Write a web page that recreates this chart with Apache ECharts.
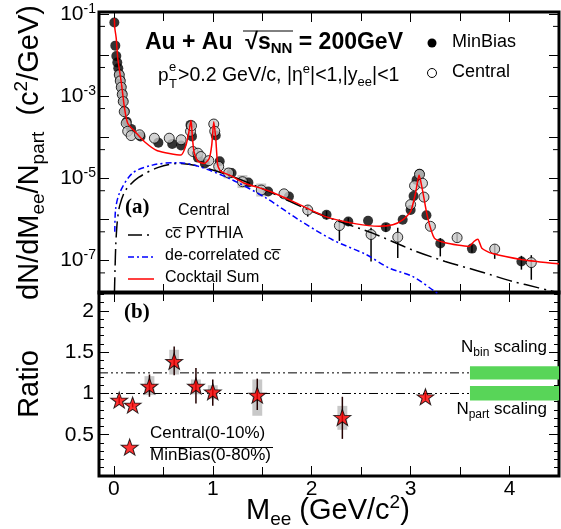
<!DOCTYPE html>
<html><head><meta charset="utf-8">
<script src="https://cdn.jsdelivr.net/npm/echarts@6/dist/echarts.min.js"></script>
<style>html,body{margin:0;padding:0;background:#fff;}#c{width:561px;height:529px;}</style>
</head><body><div id="c"></div>
<script>
// ---------- data ----------
const minBiasX = [0.005,0.015,0.025,0.035,0.045,0.055,0.065,0.075,0.085,0.095,0.11,0.13,0.175,0.27,0.45,0.59,0.68,0.775,0.79,0.85,0.92,1.03,1.07,1.19,1.36,1.56,1.77,2.15,2.37,2.57,2.75,2.92,3.00,3.03,3.06,3.09,3.16,3.30,3.62,4.12];
const minBiasY = [6.2e-2,1.7e-2,9.5e-3,6.6e-3,4.8e-3,3.4e-3,2.5e-3,1.7e-3,1.15e-3,7.6e-4,4.3e-4,2.4e-4,1.6e-4,1.05e-4,7.4e-5,6.9e-5,6.3e-5,2.0e-4,1.05e-4,3.2e-5,2.3e-5,1.1e-4,2.6e-5,1.35e-5,7.9e-6,4.8e-6,3.6e-6,1.3e-6,8.9e-7,9.3e-7,6.5e-7,9.8e-7,1.7e-6,3.7e-6,9.1e-6,1.3e-5,1.26e-6,2.6e-7,1.95e-7,9.5e-8];
const centralX = [0.055,0.065,0.075,0.085,0.095,0.105,0.125,0.14,0.175,0.26,0.41,0.56,0.68,0.775,0.785,0.80,0.85,0.88,0.96,1.01,1.02,1.06,1.16,1.30,1.49,1.72,1.96,2.28,2.60,2.87,3.00,3.04,3.09,3.12,3.135,3.20,3.47,3.85,4.22];
const centralY = [3.3e-3,2.35e-3,1.65e-3,1.1e-3,7.4e-4,4.2e-4,2.2e-4,1.4e-4,1.1e-4,1.15e-4,9.5e-5,9.5e-5,8.7e-5,1.4e-4,1.9e-4,4.5e-5,4.1e-5,3.4e-5,2.7e-5,2.1e-4,1.4e-4,1.95e-5,1.35e-5,8.3e-6,5.2e-6,4.2e-6,1.7e-6,7.1e-7,4.3e-7,3.7e-7,2.3e-6,6.6e-6,1.25e-5,7.6e-6,3.5e-6,6.8e-7,3.6e-7,1.9e-7,8.9e-8];
const minBiasErrX  = [2.15,2.37,2.75,3.30,3.62,4.12];
const minBiasErrLo = [1.0e-6,7.0e-7,5.0e-7,1.26e-7,1.55e-7,6.0e-8];
const minBiasErrHi = [1.6e-6,1.1e-6,8.0e-7,3.5e-7,2.4e-7,1.3e-7];
const centralErrX  = [1.96,2.28,2.60,2.87,3.47,3.85,4.22];
const centralErrLo = [1.17e-6,3.0e-7,9.5e-8,1.15e-7,2.8e-7,1.1e-7,3.4e-8];
const centralErrHi = [2.2e-6,1.0e-6,6.3e-7,6.3e-7,4.5e-7,2.5e-7,1.35e-7];
const centralSysX  = [1.16,1.30,1.49];
const centralSysLo = [1.0e-5,5.8e-6,3.6e-6];
const centralSysHi = [1.8e-5,1.2e-5,7.5e-6];
const sysHalfWidth = 0.05;

const cocktailX = [0.005,0.01,0.024,0.04,0.075,0.108,0.14,0.21,0.31,0.44,0.68,0.73,0.76,0.78,0.795,0.81,0.85,0.915,0.965,0.99,1.01,1.03,1.05,1.08,1.20,1.32,1.54,1.81,2.14,2.45,2.68,2.82,2.92,3.00,3.05,3.085,3.12,3.17,3.24,3.35,3.59,3.64,3.68,3.72,3.82,4.13,4.5];
const cocktailY = [0.079,0.045,0.026,0.0083,0.0022,5.1e-4,2.2e-4,1.4e-4,7.8e-5,4.7e-5,3.7e-5,6.5e-5,1.4e-4,2.6e-4,9.5e-5,4.5e-5,2.6e-5,2.3e-5,3.1e-5,6.5e-5,2.4e-4,9.5e-5,2.1e-5,1.5e-5,1.1e-5,7.6e-6,5.2e-6,2.75e-6,1.17e-6,7.8e-7,6.8e-7,7.4e-7,9.8e-7,1.55e-6,4.4e-6,1.2e-5,5.2e-6,1.17e-6,3.5e-7,2.7e-7,2.2e-7,2.9e-7,3.3e-7,2.0e-7,1.5e-7,1.05e-7,8.3e-8];
const pythiaX = [0.006,0.012,0.02,0.035,0.06,0.12,0.25,0.45,0.65,0.87,1.2,1.55,1.97,2.28,2.61,3.02,3.35,3.69,4.03,4.16,4.43,4.5];
const pythiaY = [1.6e-8,6e-8,2.5e-7,8.9e-7,2.2e-6,5.2e-6,1.05e-5,1.85e-5,2.3e-5,1.95e-5,1.1e-5,5e-6,1.7e-6,8.9e-7,4.7e-7,1.8e-7,9.5e-8,5.5e-8,3.1e-8,2.6e-8,1.8e-8,1.66e-8];
const decorrX = [0.01,0.017,0.058,0.19,0.39,0.6,0.66,0.86,1.2,1.54,1.87,2.21,2.55,2.78,3.02,3.24,3.27];
const decorrY = [5e-7,1.7e-6,4.4e-6,1.35e-5,2.1e-5,2.4e-5,2.4e-5,1.95e-5,9.1e-6,3.3e-6,9.8e-7,3.2e-7,1.4e-7,6.6e-8,4.1e-8,1.8e-8,1.6e-8];

const ratioX  = [0.054,0.19,0.36,0.61,0.83,1.0,1.45,2.31,3.15];
const ratioY  = [0.92,0.86,1.09,1.39,1.09,1.02,0.98,0.71,0.96];
const ratioLo = [0.88,0.83,0.96,1.22,0.88,0.85,0.80,0.45,0.92];
const ratioHi = [0.96,0.89,1.23,1.57,1.31,1.17,1.18,0.96,1.00];
const ratioSysX  = [0.36,0.61,0.83,1.0,1.45,2.31];
const ratioSysLo = [0.98,1.23,0.99,0.93,0.73,0.56];
const ratioSysHi = [1.21,1.53,1.17,1.10,1.17,0.85];
const scalingLevels = [1.25,1.0];         // N_bin, N_part
const scalingBandLo = [1.17,0.915];
const scalingBandHi = [1.33,1.09];
const scalingBandX = [3.6,4.5];
const legendStar = [[0.16,0.35]];

const xMin = -0.15, xMax = 4.5;
const yTopMin = 1.62e-8, yTopMax = 0.112;
const yBotMin = 0, yBotMax = 2.23;
const halfDecadeTicks = [5e-8,5e-7,5e-6,5e-5,5e-4,5e-3,5e-2];

// ---------- chart ----------
const FONT = '"Liberation Sans", Arial, sans-serif';
const chart = echarts.init(document.getElementById('c'), null, {renderer:'canvas'});
const zip2 = (a,b) => a.map((v,i)=>[v,b[i]]);
const zip3 = (a,b,c) => a.map((v,i)=>[v,b[i],c[i]]);

function errRender(color, w){
  return function(params, api){
    const a = api.coord([api.value(0), api.value(1)]);
    const b = api.coord([api.value(0), api.value(2)]);
    return {type:'line', shape:{x1:a[0],y1:a[1],x2:b[0],y2:b[1]}, style:{stroke:color, lineWidth:w}};
  };
}
function boxRender(fill, hw){
  return function(params, api){
    const x = api.value(0);
    const a = api.coord([x-hw, api.value(2)]);
    const b = api.coord([x+hw, api.value(1)]);
    return {type:'rect', shape:{x:a[0],y:a[1],width:b[0]-a[0],height:b[1]-a[1]}, style:{fill:fill}};
  };
}
function sideTickRender(len){
  return function(params, api){
    const l = api.coord([xMin, api.value(1)]);
    const r = api.coord([xMax, api.value(1)]);
    return {type:'group', children:[
      {type:'line', shape:{x1:l[0],y1:l[1],x2:l[0]+len,y2:l[1]}, style:{stroke:'#000',lineWidth:1}},
      {type:'line', shape:{x1:r[0],y1:r[1],x2:r[0]-len,y2:r[1]}, style:{stroke:'#000',lineWidth:1}}
    ]};
  };
}
function bandRender(params, api){
  const a = api.coord([scalingBandX[0], api.value(2)]);
  const b = api.coord([scalingBandX[1], api.value(1)]);
  return {type:'rect', shape:{x:a[0],y:a[1],width:b[0]-a[0],height:b[1]-a[1]}, style:{fill:'#58d558'}};
}

const tickStyle = {show:true, inside:true, length:10, lineStyle:{color:'#000', width:1}};
const minorStyle = {show:true, splitNumber:2, length:9, lineStyle:{color:'#000', width:1}};
const noLine = {show:false, onZero:false};
function xAx(grid, pos, labels){
  return {type:'value', gridIndex:grid, position:pos, min:xMin, max:xMax, splitNumber:5,
    axisLine:noLine, axisTick:tickStyle, minorTick:minorStyle, splitLine:{show:false},
    axisLabel:{show:labels, showMinLabel:false, showMaxLabel:false, fontSize:21, fontFamily:FONT, color:'#000', margin:3,
      formatter:(v)=> Math.abs(v-Math.round(v))<1e-9 ? String(Math.round(v)) : ''}};
}
const starPath = 'path://M0,-10L2.35,-3.24L9.51,-3.09L3.8,1.24L5.88,8.09L0,4L-5.88,8.09L-3.8,1.24L-9.51,-3.09L-2.35,-3.24Z';
const titleRich = {
  a:{fontSize:29, lineHeight:36, fontFamily:FONT, color:'#000', fill:'#000'},
  sub:{fontSize:19, lineHeight:20, verticalAlign:'bottom', fontFamily:FONT, color:'#000', fill:'#000'},
  sup:{fontSize:19, lineHeight:20, verticalAlign:'top', fontFamily:FONT, color:'#000', fill:'#000'}};

const option = {
  animation:false,
  backgroundColor:'#fff',
  grid:[
    {left:99, top:12, width:460, height:281, show:true, borderColor:'#000', borderWidth:3, containLabel:false, outerBoundsMode:'none'},
    {left:99, top:292, width:460, height:184, show:true, borderColor:'#000', borderWidth:3, containLabel:false, outerBoundsMode:'none'}
  ],
  xAxis:[
    xAx(0,'bottom',false),
    xAx(0,'top',false),
    xAx(1,'bottom',true),
    xAx(1,'top',false)
  ],
  yAxis:[
    {type:'log', gridIndex:0, position:'left', min:yTopMin, max:yTopMax, logBase:10,
      axisLine:noLine, axisTick:tickStyle, splitLine:{show:false}, minorTick:{show:false},
      axisLabel:{show:true, showMinLabel:false, showMaxLabel:false, margin:3, color:'#000', fontFamily:FONT,
        formatter:function(v){ const l = Math.log10(v); const e = Math.round(l);
          if (Math.abs(l-e) > 1e-6 || e % 2 === 0) return ''; return '{b|10}{s|' + e + '}'; },
        rich:{ b:{fontSize:21, lineHeight:24, fontFamily:FONT, color:'#000'},
               s:{fontSize:14, lineHeight:14, verticalAlign:'top', fontFamily:FONT, color:'#000'} }},
      name:'{a|dN/dM}{sub|ee}{a|/N}{sub|part}{a|  (c}{sup|2}{a|/GeV)}', nameLocation:'middle', nameGap:51, nameRotate:90,
      nameTextStyle:{color:'#000', fontFamily:FONT, rich:titleRich}
    },
    {type:'log', gridIndex:0, position:'right', min:yTopMin, max:yTopMax, logBase:10,
      axisLine:noLine, axisTick:tickStyle, splitLine:{show:false}, axisLabel:{show:false}},
    {type:'value', gridIndex:1, position:'left', min:yBotMin, max:yBotMax, interval:0.5,
      axisLine:noLine, axisTick:tickStyle, splitLine:{show:false},
      minorTick:{show:true, splitNumber:5, length:5, lineStyle:{color:'#000',width:1}},
      axisLabel:{show:true, showMinLabel:false, showMaxLabel:false, fontSize:21, margin:5, fontFamily:FONT, color:'#000'},
      name:'Ratio', nameLocation:'middle', nameGap:51, nameRotate:90,
      nameTextStyle:{fontSize:29, lineHeight:36, fontFamily:FONT, color:'#000'}},
    {type:'value', gridIndex:1, position:'right', min:yBotMin, max:yBotMax, interval:0.5,
      axisLine:noLine, axisTick:tickStyle, splitLine:{show:false},
      minorTick:{show:true, splitNumber:5, length:5, lineStyle:{color:'#000',width:1}},
      axisLabel:{show:false}}
  ],
  series:[
    // --- top panel ---
    {type:'custom', xAxisIndex:0, yAxisIndex:0, z:1, renderItem:sideTickRender(6),
      data: halfDecadeTicks.map(v=>[xMin, v])},
    {type:'custom', xAxisIndex:0, yAxisIndex:0, z:2, renderItem:boxRender('#c8c8c8', sysHalfWidth),
      data: zip3(centralSysX, centralSysLo, centralSysHi)},
    {type:'custom', xAxisIndex:0, yAxisIndex:0, z:3, renderItem:errRender('#000',1.5),
      data: zip3(minBiasErrX, minBiasErrLo, minBiasErrHi)},
    {type:'custom', xAxisIndex:0, yAxisIndex:0, z:3, renderItem:errRender('#000',1.5),
      data: zip3(centralErrX, centralErrLo, centralErrHi)},
    {type:'scatter', name:'MinBias', xAxisIndex:0, yAxisIndex:0, z:4, symbol:'circle', symbolSize:10,
      itemStyle:{color:'#000'}, data: zip2(minBiasX, minBiasY)},
    {type:'scatter', name:'Central', xAxisIndex:0, yAxisIndex:0, z:5, symbol:'circle', symbolSize:10,
      itemStyle:{color:'#c8c8c8', borderColor:'#000', borderWidth:1}, data: zip2(centralX, centralY)},
    {type:'line', name:'cc PYTHIA', xAxisIndex:0, yAxisIndex:0, z:6, showSymbol:false, smooth:0.3,
      lineStyle:{color:'#000', width:1.5, type:[16,5,2,5]}, data: zip2(pythiaX, pythiaY)},
    {type:'line', name:'de-correlated', xAxisIndex:0, yAxisIndex:0, z:6, showSymbol:false, smooth:0.3,
      lineStyle:{color:'#0000ff', width:1.5, type:[6,3,2,3]}, data: zip2(decorrX, decorrY)},
    {type:'line', name:'Cocktail Sum', xAxisIndex:0, yAxisIndex:0, z:7, showSymbol:false, smooth:0.2,
      lineStyle:{color:'#ff0000', width:1.5}, data: zip2(cocktailX, cocktailY)},
    // --- bottom panel ---
    {type:'custom', xAxisIndex:2, yAxisIndex:2, z:1, renderItem:bandRender,
      data: zip3(scalingLevels, scalingBandLo, scalingBandHi)},
    {type:'line', xAxisIndex:2, yAxisIndex:2, z:2, showSymbol:false,
      lineStyle:{color:'#000', width:1, type:[9,3,2,3,2,3,2,3]}, data: [[xMin, scalingLevels[0]],[scalingBandX[0], scalingLevels[0]]]},
    {type:'line', xAxisIndex:2, yAxisIndex:2, z:2, showSymbol:false,
      lineStyle:{color:'#000', width:1, type:[9,3,2,3,2,3,2,3]}, data: [[xMin, scalingLevels[1]],[scalingBandX[0], scalingLevels[1]]]},
    {type:'custom', xAxisIndex:2, yAxisIndex:2, z:3, renderItem:boxRender('#c8c8c8', sysHalfWidth),
      data: zip3(ratioSysX, ratioSysLo, ratioSysHi)},
    {type:'custom', xAxisIndex:2, yAxisIndex:2, z:4, renderItem:errRender('#200',1.5),
      data: zip3(ratioX, ratioLo, ratioHi)},
    {type:'scatter', xAxisIndex:2, yAxisIndex:2, z:5, symbol:starPath, symbolSize:[17,16],
      itemStyle:{color:'#ff0000', borderColor:'#000', borderWidth:1}, data: zip2(ratioX, ratioY)},
    {type:'scatter', xAxisIndex:2, yAxisIndex:2, z:5, symbol:starPath, symbolSize:[17,16],
      itemStyle:{color:'#ff0000', borderColor:'#000', borderWidth:1}, data: legendStar}
  ],
  graphic:[
    // x-axis title
    {type:'text', left:246, top:493, z:10, style:{
      text:'{a|M}{sub|ee}{a| (GeV/c}{sup|2}{a|)}', fill:'#000', rich:titleRich}},
    // top title
    {type:'text', left:145, top:31, z:10, style:{
      text:'{b|Au + Au  \u221A}{bs|s}{bsub|NN}{b| = 200GeV}', fill:'#000',
      rich:{ b:{fontSize:23, fontWeight:'bold', fontFamily:FONT, lineHeight:28, fill:'#000'},
             bs:{fontSize:23, fontWeight:'bold', fontFamily:FONT, lineHeight:28, fill:'#000'},
             bsub:{fontSize:15, fontWeight:'bold', fontFamily:FONT, lineHeight:16, verticalAlign:'bottom', fill:'#000'} }}},
    {type:'line', z:10, shape:{x1:243, y1:31, x2:293, y2:31}, style:{stroke:'#000', lineWidth:1}},
    // second line
    {type:'text', left:158, top:66, z:10, style:{text:'p', fill:'#000', font:'19px '+FONT}},
    {type:'text', left:169, top:61, z:10, style:{text:'e', fill:'#000', font:'13px '+FONT}},
    {type:'text', left:169, top:78, z:10, style:{text:'T', fill:'#000', font:'13px '+FONT}},
    {type:'text', left:178, top:63, z:10, style:{
      text:'{a|>0.2 GeV/c, |\u03B7}{sup|e}{a||<1,|y}{sub|ee}{a||<1}', fill:'#000',
      rich:{ a:{fontSize:19.5, fontFamily:FONT, lineHeight:26, fill:'#000'},
             sup:{fontSize:13, fontFamily:FONT, lineHeight:13, verticalAlign:'top', fill:'#000'},
             sub:{fontSize:13, fontFamily:FONT, lineHeight:13, verticalAlign:'bottom', fill:'#000'} }}},
    // top-right legend
    {type:'circle', z:10, shape:{cx:432, cy:43, r:4.5}, style:{fill:'#000'}},
    {type:'text', left:452, top:33, z:10, style:{text:'MinBias', fill:'#000', font:'18px '+FONT}},
    {type:'circle', z:10, shape:{cx:432, cy:73, r:4.5}, style:{fill:'#fff', stroke:'#000', lineWidth:1}},
    {type:'text', left:452, top:63, z:10, style:{text:'Central', fill:'#000', font:'18px '+FONT}},
    // (a) legend
    {type:'text', left:125, top:197, z:10, style:{text:'(a)', fill:'#000', font:'bold 21px "Liberation Serif", "Times New Roman", serif'}},
    {type:'text', left:178, top:203, z:10, style:{text:'Central', fill:'#000', font:'16px '+FONT}},
    {type:'line', z:10, shape:{x1:128, y1:235, x2:154, y2:235}, style:{stroke:'#000', lineWidth:1.5, lineDash:[14,5,2,5]}},
    {type:'text', left:165, top:226, z:10, style:{text:'cc\u0305 PYTHIA', fill:'#000', font:'16px '+FONT}},
    {type:'line', z:10, shape:{x1:128, y1:257, x2:154, y2:257}, style:{stroke:'#0000ff', lineWidth:1.5, lineDash:[6,3,2,3]}},
    {type:'text', left:165, top:248, z:10, style:{text:'de-correlated cc\u0305', fill:'#000', font:'16px '+FONT}},
    {type:'line', z:10, shape:{x1:128, y1:279, x2:154, y2:279}, style:{stroke:'#ff0000', lineWidth:1.5}},
    {type:'text', left:165, top:270, z:10, style:{text:'Cocktail Sum', fill:'#000', font:'16px '+FONT}},
    // (b) panel
    {type:'text', left:124, top:302, z:10, style:{text:'(b)', fill:'#000', font:'bold 21px "Liberation Serif", "Times New Roman", serif'}},
    {type:'text', left:150, top:425, z:10, style:{text:'Central(0-10%)', fill:'#000', font:'17px '+FONT}},
    {type:'line', z:10, shape:{x1:150, y1:447.5, x2:273, y2:447.5}, style:{stroke:'#000', lineWidth:1}},
    {type:'text', left:150, top:447, z:10, style:{text:'MinBias(0-80%)', fill:'#000', font:'17px '+FONT}},
    {type:'text', right:14, top:339, z:10, style:{
      text:'{a|N}{sub|bin}{a| scaling}', fill:'#000',
      rich:{a:{fontSize:17, fontFamily:FONT, lineHeight:22, fill:'#000'},
            sub:{fontSize:12, fontFamily:FONT, lineHeight:12, verticalAlign:'bottom', fill:'#000'}}}},
    {type:'text', right:14, top:401, z:10, style:{
      text:'{a|N}{sub|part}{a| scaling}', fill:'#000',
      rich:{a:{fontSize:17, fontFamily:FONT, lineHeight:22, fill:'#000'},
            sub:{fontSize:12, fontFamily:FONT, lineHeight:12, verticalAlign:'bottom', fill:'#000'}}}}
  ]
};
chart.setOption(option);
</script>
</body></html>
